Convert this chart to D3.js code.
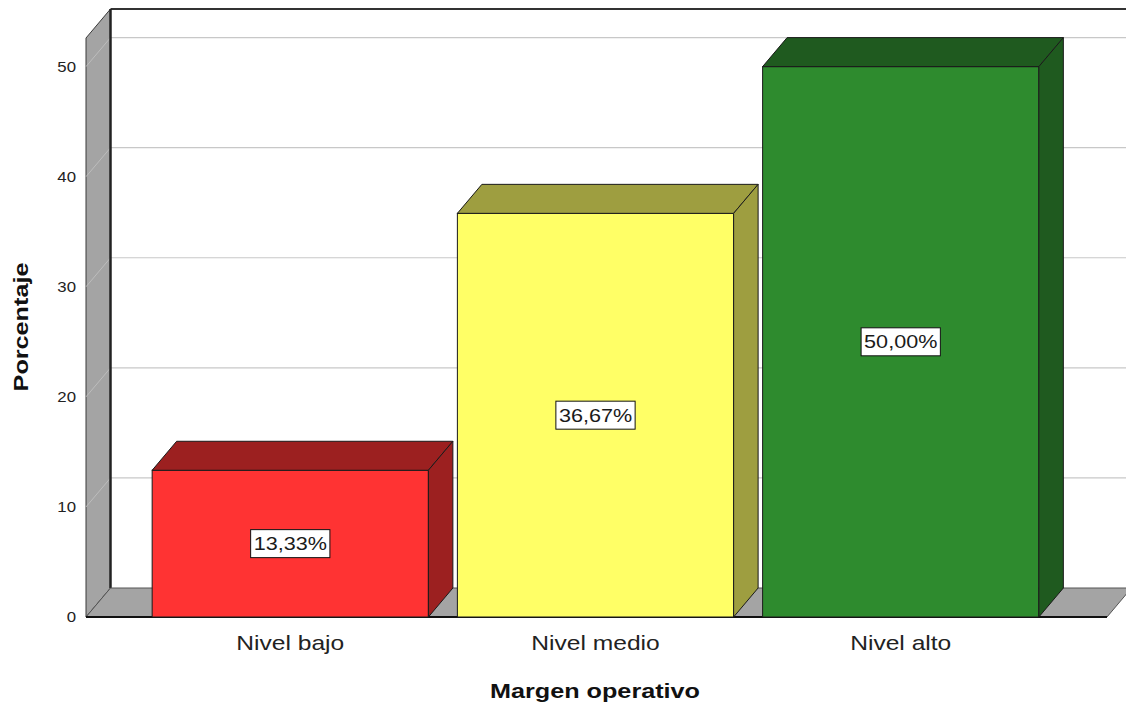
<!DOCTYPE html>
<html>
<head>
<meta charset="utf-8">
<script src="https://cdn.jsdelivr.net/npm/d3@7"></script>
<style>
  html, body { margin: 0; padding: 0; background: #fff; }
  svg { display: block; font-family: Arial, "Liberation Sans", sans-serif; }
</style>
</head>
<body>
<svg id="chart" width="1126" height="705"></svg>
<script>
// Margen operativo — porcentaje por nivel
const categories = ["Nivel bajo", "Nivel medio", "Nivel alto"];
const values = [13.33, 36.67, 50.00];
const valueLabels = ["13,33%", "36,67%", "50,00%"];
const frontColors = ["#ff3333", "#ffff66", "#2e8b2e"];
const shadeColors = ["#9c2020", "#9e9e40", "#1f5a1f"];
const yTicks = [0, 10, 20, 30, 40, 50];

const svg = d3.select("#chart");

// 3D depth offset of the plot box
const DX = 24.5, DY = -29;
// wide sans look: stretch glyphs along the text direction
const SX = 1.2;

const x = d3.scaleBand()
  .domain(categories)
  .range([85, 1106])
  .paddingInner(0.095)
  .paddingOuter(0.22);

const y = d3.scaleLinear()
  .domain([0, 52.6])
  .range([617, 38]);

const x0 = 86, x1 = 1107;
const yTop = y.domain()[1];
const line = pts => "M" + pts.map(p => p.join(",")).join("L") + "Z";

// text helper: anchor at (px, py), optional rotation, horizontal stretch
function label(parent, px, py, txt, opts) {
  const o = Object.assign({ size: 14, weight: "normal", anchor: "middle", rot: 0, fill: "#222" }, opts);
  return parent.append("text")
    .attr("transform", `translate(${px},${py}) rotate(${o.rot}) scale(${SX},1)`)
    .attr("text-anchor", o.anchor)
    .attr("font-size", o.size)
    .attr("font-weight", o.weight)
    .attr("fill", o.fill)
    .text(txt);
}

// back wall gridlines
const g = svg.append("g");
g.selectAll("line.grid")
  .data(yTicks.filter(t => t > 0))
  .join("line")
  .attr("class", "grid")
  .attr("x1", x0 + DX).attr("x2", 1126)
  .attr("y1", d => y(d) + DY).attr("y2", d => y(d) + DY)
  .attr("stroke", "#c8c8c8").attr("stroke-width", 1.2);

// back wall top border
g.append("line")
  .attr("x1", x0 + DX).attr("x2", 1126)
  .attr("y1", y(yTop) + DY).attr("y2", y(yTop) + DY)
  .attr("stroke", "#333").attr("stroke-width", 2);

// left side wall
g.append("path")
  .attr("d", line([[x0, y(0)], [x0, y(yTop)], [x0 + DX, y(yTop) + DY], [x0 + DX, y(0) + DY]]))
  .attr("fill", "#a4a4a4").attr("stroke", "#3a3a3a").attr("stroke-width", 1);

// gridline traces on the side wall
g.selectAll("line.wallgrid")
  .data(yTicks.filter(t => t > 0))
  .join("line")
  .attr("class", "wallgrid")
  .attr("x1", x0).attr("x2", x0 + DX)
  .attr("y1", d => y(d)).attr("y2", d => y(d) + DY)
  .attr("stroke", "#bdbdbd").attr("stroke-width", 1);

// back wall left edge
g.append("line")
  .attr("x1", x0 + DX).attr("x2", x0 + DX)
  .attr("y1", y(yTop) + DY).attr("y2", y(0) + DY)
  .attr("stroke", "#222").attr("stroke-width", 2.5);

// floor
g.append("path")
  .attr("d", line([[x0, y(0)], [x0 + DX, y(0) + DY], [x1 + DX, y(0) + DY], [x1, y(0)]]))
  .attr("fill", "#a4a4a4").attr("stroke", "#555").attr("stroke-width", 1);
g.append("line")
  .attr("x1", x0).attr("x2", x1)
  .attr("y1", y(0)).attr("y2", y(0))
  .attr("stroke", "#111").attr("stroke-width", 2);

// bars
const bars = svg.append("g").selectAll("g.bar")
  .data(categories.map((c, i) => ({ c, v: values[i], i })))
  .join("g").attr("class", "bar");

bars.append("rect")
  .attr("x", d => x(d.c))
  .attr("y", d => y(d.v))
  .attr("width", x.bandwidth())
  .attr("height", d => y(0) - y(d.v))
  .attr("fill", d => frontColors[d.i])
  .attr("stroke", "#1a1a1a").attr("stroke-width", 1);

bars.append("path")
  .attr("d", d => {
    const l = x(d.c), r = l + x.bandwidth(), t = y(d.v);
    return line([[l, t], [l + DX, t + DY], [r + DX, t + DY], [r, t]]);
  })
  .attr("fill", d => shadeColors[d.i])
  .attr("stroke", "#1a1a1a").attr("stroke-width", 1);

bars.append("path")
  .attr("d", d => {
    const r = x(d.c) + x.bandwidth(), t = y(d.v), b = y(0);
    return line([[r, t], [r + DX, t + DY], [r + DX, b + DY], [r, b]]);
  })
  .attr("fill", d => shadeColors[d.i])
  .attr("stroke", "#1a1a1a").attr("stroke-width", 1);

// value labels in white boxes
bars.each(function (d) {
  const gb = d3.select(this);
  const cx = x(d.c) + x.bandwidth() / 2;
  const cy = y(d.v / 2);
  const t = label(gb, cx, cy + 6.5, valueLabels[d.i], { size: 18, fill: "#1a1a1a" });
  const w = t.node().getBBox().width * SX;
  gb.insert("rect", "text")
    .attr("x", cx - w / 2 - 3).attr("y", cy - 14)
    .attr("width", w + 6).attr("height", 28)
    .attr("fill", "#fff").attr("stroke", "#111").attr("stroke-width", 1);
});

// y tick labels
const ty = svg.append("g");
yTicks.forEach(t => label(ty, 76, y(t) + 5, t, { size: 14, anchor: "end" }));

// category labels
const tx = svg.append("g");
categories.forEach(c => label(tx, x(c) + x.bandwidth() / 2, 650, c, { size: 20.5 }));

// axis titles
label(svg, 595, 698, "Margen operativo", { size: 21, weight: "bold", fill: "#111" });
label(svg, 28, 327, "Porcentaje", { size: 21, weight: "bold", rot: -90, fill: "#111" });
</script>
</body>
</html>
